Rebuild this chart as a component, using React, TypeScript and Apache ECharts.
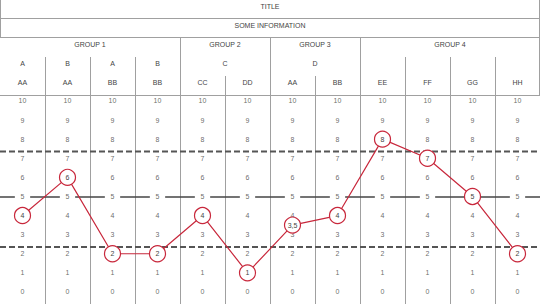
import React, { useEffect, useRef } from "react";
import * as echarts from "echarts";

const titleText = "TITLE";
const infoText = "SOME INFORMATION";
const groupNames = ["GROUP 1", "GROUP 2", "GROUP 3", "GROUP 4"];
const groupSpans = [4, 2, 2, 4];
const subNames = ["A", "B", "A", "B", "C", "D", "", "", "", ""];
const subSpans = [1, 1, 1, 1, 2, 2, 1, 1, 1, 1];
const categories = ["AA", "AA", "BB", "BB", "CC", "DD", "AA", "BB", "EE", "FF", "GG", "HH"];
const values = [4, 6, 2, 2, 4, 1, 3.5, 4, 8, 7, 5, 2];
const scaleTicks = [0, 1, 2, 3, 4, 5, 6, 7, 8, 9, 10];
const midLine = 5;
const dashedLines = [7.35, 2.35];

const fmt = (v: number) => String(v).replace(".", ",");

export default function App() {
  const ref = useRef<HTMLDivElement>(null);
  useEffect(() => {
    document.body.style.margin = "0";
    const chart = echarts.init(ref.current!, null, { renderer: "svg" });
    const W = 540;
    const n = categories.length;
    const colW = W / n;
    const font = "Liberation Sans, Arial, sans-serif";
    const txtColor = "#444";
    const lineColor = "#a0a0a0";
    const red = "#c8283c";
    const labelGap = 0.17; // half gap around the mid-line labels, in columns

    const rowY = { title: 0, info: 18, group: 37, sub: 57, cat: 76, data: 95, bottom: 304 };
    const textY = { title: 6.5, info: 25.5, group: 44.5, sub: 63.5, cat: 82 };

    const graphics: any[] = [];
    const hline = (y: number) =>
      graphics.push({ type: "line", shape: { x1: 0, y1: y, x2: W, y2: y }, style: { stroke: lineColor, lineWidth: 1 }, silent: true });
    const vline = (x: number, y1: number, y2: number) =>
      graphics.push({ type: "line", shape: { x1: x, y1, x2: x, y2 }, style: { stroke: lineColor, lineWidth: 1 }, silent: true });
    const text = (s: string, x: number, y: number) =>
      graphics.push({
        type: "text",
        x,
        y,
        silent: true,
        style: { text: s, fill: txtColor, font: `7px ${font}`, align: "center", verticalAlign: "middle" },
      });

    hline(18.5);
    hline(37.5);
    hline(95.5);
    vline(0.5, 0, 37);
    vline(539.5, 0, 95);
    text(titleText, W / 2, textY.title);
    text(infoText, W / 2, textY.info);

    let c = 0;
    const groupBounds = new Set<number>();
    groupNames.forEach((g, i) => {
      text(g, (c + groupSpans[i] / 2) * colW, textY.group);
      c += groupSpans[i];
      if (c < n) {
        groupBounds.add(c);
        vline(Math.round(c * colW) + 0.5, rowY.group, rowY.data);
      }
    });
    c = 0;
    const subBounds = new Set<number>();
    subNames.forEach((s, i) => {
      if (s) text(s, (c + subSpans[i] / 2) * colW, textY.sub);
      c += subSpans[i];
      if (c < n && !groupBounds.has(c)) {
        subBounds.add(c);
        vline(Math.round(c * colW) + 0.5, rowY.sub, rowY.data);
      }
    });
    categories.forEach((s, i) => {
      text(s, (i + 0.5) * colW, textY.cat);
      const b = i + 1;
      if (b < n && !groupBounds.has(b) && !subBounds.has(b)) {
        vline(Math.round(b * colW) + 0.5, rowY.cat, rowY.data);
      }
    });

    const tickData: any[] = [];
    categories.forEach((_, i) => {
      scaleTicks.forEach((t) => {
        tickData.push({ value: [i, t], label: { formatter: String(t) } });
      });
    });

    const pointData = values.map((v) => ({ value: v, label: { formatter: fmt(v) } }));

    // mid line split into segments leaving room for each column's label
    const midSegments: any[] = [];
    midSegments.push({ coords: [[0, midLine], [0.5 - labelGap, midLine]] });
    for (let i = 0; i < n; i++) {
      const x1 = i + 0.5 + labelGap;
      const x2 = i + 1 < n ? i + 1.5 - labelGap : n;
      midSegments.push({ coords: [[x1, midLine], [x2, midLine]] });
    }

    const hLineSeries = (y: number, style: any, z: number) => ({
      type: "line",
      xAxisIndex: 1,
      data: [
        [0, y],
        [n, y],
      ],
      z,
      silent: true,
      symbol: "none",
      lineStyle: style,
    });

    chart.setOption({
      animation: false,
      grid: { left: 0, right: 0, top: 95, bottom: 0 },
      xAxis: [
        {
          type: "category",
          data: categories,
          boundaryGap: true,
          axisLabel: { show: false },
          axisLine: { show: false },
          axisTick: { show: false },
          splitLine: { show: true, showMinLine: false, showMaxLine: false, lineStyle: { color: lineColor, width: 1 } },
        },
        { type: "value", min: 0, max: n, show: false },
      ],
      yAxis: {
        type: "value",
        min: -0.63,
        max: 10.31,
        show: false,
        splitLine: { show: false },
      },
      graphic: graphics,
      series: [
        {
          type: "lines",
          coordinateSystem: "cartesian2d",
          xAxisIndex: 1,
          data: midSegments,
          z: 1,
          silent: true,
          symbol: "none",
          lineStyle: { color: "#444", width: 1.5, type: "solid", opacity: 1 },
        },
        ...dashedLines.map((d) => hLineSeries(d, { color: "#555", width: 2, type: [6, 3] }, 1)),
        {
          type: "scatter",
          data: tickData,
          z: 2,
          silent: true,
          symbol: "circle",
          symbolSize: 1,
          itemStyle: { color: "rgba(0,0,0,0)" },
          label: {
            show: true,
            position: "inside",
            color: txtColor,
            fontSize: 7,
            fontFamily: font,
          },
        },
        {
          type: "line",
          data: pointData,
          z: 3,
          silent: true,
          symbol: "circle",
          symbolSize: 16,
          lineStyle: { color: red, width: 1.2 },
          itemStyle: { color: "#fff", borderColor: red, borderWidth: 1.2 },
          label: {
            show: true,
            position: "inside",
            color: "#444",
            fontSize: 7,
            fontFamily: font,
          },
        },
      ],
    });
    return () => chart.dispose();
  }, []);
  return <div ref={ref} style={{ width: 540, height: 304 }} />;
}
